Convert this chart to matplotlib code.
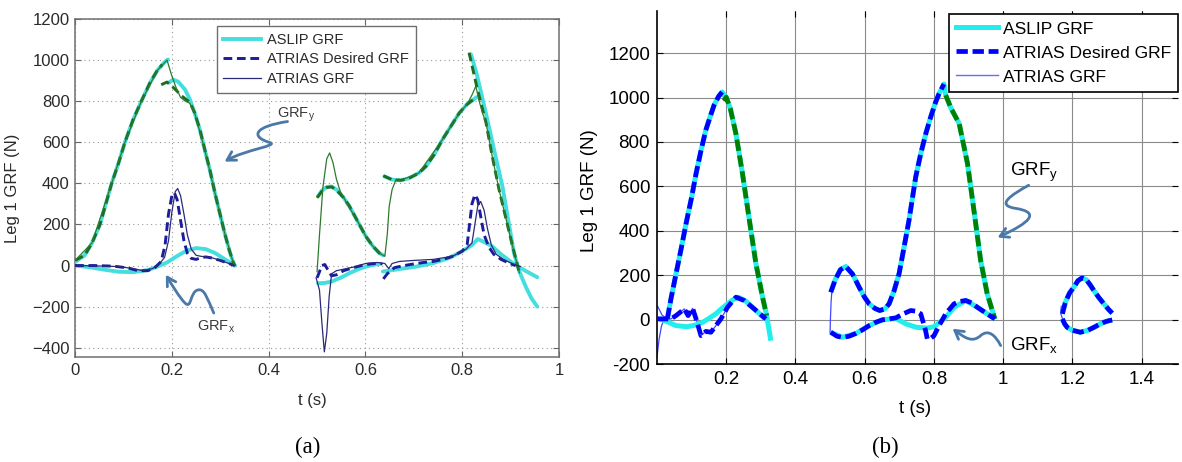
import numpy as np
import matplotlib
matplotlib.use("Agg")
import matplotlib.pyplot as plt
from matplotlib.lines import Line2D
from matplotlib.path import Path
from matplotlib.patches import FancyArrowPatch
from matplotlib.ticker import FuncFormatter

plt.rcParams["font.family"] = ["Liberation Sans", "DejaVu Sans"]
plt.rcParams["mathtext.fontset"] = "custom"
plt.rcParams["mathtext.rm"] = "Liberation Sans"

# ---------------- (a) measured walking, leg 1 ----------------
# stance 1, vertical force
a_slip_y1_t = [0, 0.02, 0.035, 0.0515, 0.0756, 0.09, 0.103, 0.12, 0.137, 0.155, 0.17, 0.185, 0.192]
a_slip_y1_f = [18, 50, 110, 200, 400, 500, 600, 710, 800, 890, 950, 990, 1003]
a_slip_y2_t = [0.194, 0.2025, 0.213, 0.227, 0.237, 0.247, 0.258, 0.268, 0.279, 0.289, 0.299, 0.309, 0.318, 0.326, 0.33]
a_slip_y2_f = [890, 905, 895, 857, 810, 744, 660, 564, 460, 353, 255, 159, 80, 20, 0]
a_des_y1_t = [0, 0.02, 0.035, 0.0515, 0.0756, 0.09, 0.103, 0.12, 0.137, 0.155, 0.17, 0.18]
a_des_y1_f = [25, 50, 110, 200, 400, 500, 600, 710, 800, 890, 950, 978]
a_des_y2_t = [0.178, 0.19, 0.206, 0.22, 0.237, 0.247, 0.258, 0.268, 0.279, 0.289, 0.299, 0.309, 0.318, 0.326, 0.33]
a_des_y2_f = [880, 893, 860, 826, 795, 744, 660, 564, 460, 353, 255, 159, 80, 20, 0]
a_act_y1_t = [0, 0.035, 0.0756, 0.103, 0.137, 0.17, 0.19, 0.199, 0.208, 0.218, 0.228, 0.237, 0.247, 0.268, 0.289, 0.309, 0.326, 0.33]
a_act_y1_f = [25, 110, 400, 600, 800, 950, 1000, 930, 870, 818, 800, 790, 744, 564, 353, 159, 20, 0]
# stance 2, vertical force
a_slip_y3_t = [0.502, 0.51, 0.52, 0.53, 0.54, 0.555, 0.567, 0.585, 0.601, 0.615, 0.629, 0.637]
a_slip_y3_f = [337, 365, 382, 385, 370, 330, 288, 210, 141, 95, 60, 50]
a_slip_y4_t = [0.639, 0.655, 0.673, 0.69, 0.71, 0.725, 0.742, 0.759, 0.777, 0.794, 0.81, 0.83]
a_slip_y4_f = [434, 418, 415, 425, 450, 483, 540, 613, 680, 743, 785, 820]
a_slip_y5_t = [0.818, 0.83, 0.849, 0.866, 0.883, 0.895, 0.907, 0.918, 0.931, 0.943, 0.955]
a_slip_y5_f = [1028, 930, 739, 560, 385, 220, 60, -30, -102, -160, -200]
a_des_y3_t = [0.5, 0.51, 0.52, 0.53, 0.54, 0.555, 0.567, 0.585, 0.601, 0.615, 0.629, 0.637]
a_des_y3_f = [330, 362, 380, 383, 368, 330, 288, 210, 141, 95, 60, 50]
a_des_y4_t = [0.637, 0.655, 0.673, 0.69, 0.71, 0.725, 0.742, 0.759, 0.777, 0.794, 0.81, 0.825]
a_des_y4_f = [437, 418, 415, 425, 450, 483, 540, 613, 680, 743, 785, 812]
a_des_y5_t = [0.814, 0.83, 0.849, 0.862, 0.876, 0.89, 0.904, 0.918]
a_des_y5_f = [1036, 870, 695, 530, 369, 230, 93, -36]
a_act_y2_t = [0.5, 0.505, 0.512, 0.52, 0.526, 0.533, 0.54, 0.548, 0.56, 0.585, 0.601, 0.615, 0.629, 0.64,
              0.645, 0.649, 0.655, 0.663, 0.673, 0.71, 0.759, 0.794, 0.81, 0.82, 0.828, 0.835, 0.842,
              0.849, 0.862, 0.876, 0.89, 0.904, 0.918]
a_act_y2_f = [-30, 150, 380, 520, 548, 500, 420, 360, 310, 210, 141, 95, 60, 45,
              150, 288, 370, 418, 415, 450, 613, 743, 785, 830, 873, 800, 740,
              695, 530, 369, 230, 93, -36]

# stance 1, horizontal force
a_slip_x1_t = [0, 0.03, 0.06, 0.09, 0.12, 0.15, 0.17, 0.19, 0.21, 0.23, 0.25, 0.27, 0.29, 0.31, 0.33]
a_slip_x1_f = [0, -8, -20, -30, -32, -22, -5, 15, 45, 72, 85, 80, 60, 30, 0]
a_des_x1_t = [0, 0.04, 0.08, 0.11, 0.13, 0.15, 0.165, 0.178, 0.186, 0.193, 0.2, 0.205, 0.211, 0.218,
              0.225, 0.232, 0.24, 0.25, 0.26, 0.27, 0.28, 0.3, 0.315, 0.33]
a_des_x1_f = [0, 0, -3, -12, -25, -25, -10, 20, 100, 250, 340, 355, 320, 220,
              120, 60, 35, 30, 38, 42, 38, 25, 12, 0]
a_act_x1_t = [0, 0.05, 0.09, 0.12, 0.14, 0.16, 0.175, 0.185, 0.193, 0.2, 0.207, 0.212, 0.218, 0.225,
              0.232, 0.24, 0.25, 0.26, 0.28, 0.3, 0.33]
a_act_x1_f = [0, -2, -5, -15, -25, -15, 10, 40, 120, 260, 360, 375, 340, 250,
              150, 80, 50, 45, 40, 25, 0]
# stance 2, horizontal force
a_slip_x2_t = [0.502, 0.515, 0.53, 0.55, 0.567, 0.585, 0.601, 0.615, 0.629]
a_slip_x2_f = [-86, -85, -78, -58, -37, -18, -5, 3, 8]
a_slip_x3_t = [0.636, 0.67, 0.705, 0.74, 0.773, 0.8, 0.82, 0.832, 0.845, 0.862, 0.88, 0.904, 0.93, 0.955]
a_slip_x3_f = [-29, -17, -5, 12, 37, 70, 100, 129, 115, 93, 55, 12, -25, -57]
a_des_x2_t = [0.5, 0.505, 0.51, 0.516, 0.522, 0.53, 0.54, 0.555, 0.575, 0.6, 0.62, 0.635]
a_des_x2_f = [-60, -30, 0, 5, -20, -50, -45, -25, -10, 5, 10, 8]
a_des_x3_t = [0.637, 0.645, 0.66, 0.68, 0.7, 0.72, 0.74, 0.76, 0.78, 0.8, 0.81, 0.815, 0.82, 0.826,
              0.832, 0.838, 0.845, 0.855, 0.865, 0.88, 0.9, 0.91]
a_des_x3_f = [-65, -40, -10, 0, 8, 15, 20, 30, 45, 70, 100, 200, 300, 345,
              320, 240, 150, 90, 55, 30, 8, 0]
a_act_x2_t = [0.498, 0.505, 0.51, 0.515, 0.52, 0.525, 0.53, 0.54, 0.56, 0.58, 0.6, 0.625, 0.64, 0.648,
              0.655, 0.67, 0.7, 0.74, 0.78, 0.808, 0.82, 0.826, 0.832, 0.838, 0.845, 0.852, 0.86,
              0.87, 0.885, 0.907, 0.92]
a_act_x2_f = [-60, -120, -280, -420, -330, -150, -40, -25, -15, -5, 10, 15, 10, -15,
              10, 20, 25, 30, 45, 80, 110, 200, 290, 312, 270, 180, 100,
              55, 30, 5, -5]

# ---------------- (b) simulation, leg 1 ----------------
b_rise_y1_t = [0.03, 0.04, 0.055, 0.07, 0.084, 0.1, 0.113, 0.127, 0.141, 0.155, 0.165, 0.178, 0.188]
b_rise_y1_f = [3, 90, 206, 320, 432, 550, 658, 760, 853, 920, 966, 1005, 1025]
b_fall_y1_t = [0.194, 0.2, 0.212, 0.228, 0.247, 0.267, 0.286, 0.305, 0.317]
b_fall_y1_f = [985, 1002, 950, 838, 658, 447, 251, 101, 18]
b_tail_y1_t = [0.317, 0.323, 0.329]
b_tail_y1_f = [18, -40, -95]
b_rise_y2_t = [0.502, 0.515, 0.53, 0.5455, 0.565, 0.584, 0.6, 0.613, 0.63, 0.6436, 0.658, 0.6705, 0.685,
               0.6994, 0.713, 0.728, 0.7475, 0.762, 0.777, 0.791, 0.805, 0.815, 0.829]
b_rise_y2_f = [123, 180, 225, 239, 205, 146, 100, 71, 50, 41, 48, 71, 130,
               207, 320, 447, 643, 748, 840, 914, 980, 1018, 1061]
b_fall_y2_t = [0.834, 0.85, 0.873, 0.897, 0.917, 0.935, 0.954, 0.976]
b_fall_y2_f = [1011, 950, 883, 703, 476, 266, 116, 3]
b_y3_t = [1.171, 1.18, 1.192, 1.204, 1.216, 1.228, 1.24, 1.252, 1.262, 1.276, 1.291, 1.305, 1.315]
b_y3_f = [26, 80, 120, 146, 175, 188, 180, 155, 131, 100, 71, 45, 29]

b_slip_x1_t = [0.006, 0.03, 0.055, 0.087, 0.11, 0.132, 0.15, 0.17, 0.187, 0.204, 0.22, 0.235, 0.255,
               0.276, 0.295, 0.314]
b_slip_x1_f = [5, -10, -27, -32, -25, -12, 5, 26, 50, 71, 90, 101, 85, 56, 28, 0]
b_des_x1_t = [0.0, 0.0067, 0.04, 0.055, 0.079, 0.09, 0.103, 0.1145, 0.127, 0.1414, 0.156, 0.1703, 0.1847,
              0.204, 0.228, 0.252, 0.281, 0.3146]
b_des_x1_f = [5, 3, 3, 18, 48, 18, 51, -4, -72, -53, -57, -27, 3, 56, 101, 86, 48, 3]
b_act_x1_t = [0.0, 0.006, 0.013, 0.02, 0.04, 0.055, 0.079, 0.09, 0.103, 0.1145, 0.127, 0.1414, 0.156,
              0.1703, 0.1847, 0.204, 0.228, 0.252, 0.281, 0.3146]
b_act_x1_f = [-170, -90, -30, 0, 3, 18, 48, 18, 51, -4, -72, -53, -57, -27, 3, 56, 101, 86, 48, 3]
b_act_y1_t = [0.002, 0.015, 0.03]
b_act_y1_f = [60, 20, 3]
b_des_x2_t = [0.502, 0.52, 0.536, 0.555, 0.575, 0.595, 0.613, 0.632, 0.6513, 0.67, 0.69, 0.71, 0.733,
              0.748, 0.762, 0.776, 0.781, 0.79, 0.8, 0.815, 0.834, 0.858, 0.875, 0.892, 0.91, 0.925,
              0.95, 0.976]
b_des_x2_f = [-57, -75, -80, -75, -62, -45, -27, -12, -1, 3, 8, 25, 41,
              38, 26, -50, -88, -85, -73, -27, 26, 71, 82, 86, 75, 56,
              30, 3]
b_slip_x2_t = [0.502, 0.536, 0.575, 0.613, 0.6513, 0.69, 0.72, 0.75, 0.78, 0.8, 0.815, 0.834, 0.858,
               0.892, 0.925, 0.95, 0.976]
b_slip_x2_f = [-57, -80, -62, -27, -1, 5, -20, -35, -38, -32, -15, 10, 55, 86, 56, 30, 3]
b_act_j2_t = [0.5, 0.501, 0.503, 0.505]
b_act_j2_f = [-60, 0, 80, 123]
b_x3_t = [1.171, 1.178, 1.185, 1.2, 1.223, 1.245, 1.262, 1.28, 1.291, 1.305, 1.315]
b_x3_f = [3, -20, -35, -48, -57, -48, -35, -20, -12, -5, -2]
b_act_j3_t = [1.168, 1.166, 1.17, 1.172]
b_act_j3_f = [60, 30, 10, 3]

a_yticks = [-400, -200, 0, 200, 400, 600, 800, 1000, 1200]
a_xticks = [0, 0.2, 0.4, 0.6, 0.8, 1]
b_yticks = [-200, 0, 200, 400, 600, 800, 1000, 1200]
b_xticks = [0.2, 0.4, 0.6, 0.8, 1, 1.2, 1.4]
legend_labels = ["ASLIP GRF", "ATRIAS Desired GRF", "ATRIAS GRF"]

# styles
A_CYAN = dict(color="#45dede", lw=2.8, solid_capstyle="round", zorder=3)
A_NAVY_D = dict(color="#1c1c9c", lw=2.1, ls=(0, (3, 1.6)), zorder=4)
A_NAVY_T = dict(color="#2a2a7a", lw=0.9, zorder=5)
A_GREEN_D = dict(color="#1f6b1f", lw=2.1, ls=(0, (3, 1.6)), zorder=4)
A_GREEN_T = dict(color="#2d7a2d", lw=0.9, zorder=5)
B_CYAN = dict(color="#22eeee", lw=3.6, solid_capstyle="butt", zorder=3)
B_BLUE_D = dict(color="#0000ff", lw=3.4, ls=(0, (2.4, 1.0)), zorder=4)
B_GREEN_D = dict(color="#008000", lw=3.4, ls=(0, (2.4, 1.0)), zorder=4)
B_THIN = dict(color="#4646ff", lw=0.9, zorder=2)
ARROW_C = "#4a78a8"


def fmt_minus(v, pos):
    return ("%g" % v).replace("-", "\u2212")


def squiggle(ax, pts, lw):
    codes = [Path.MOVETO] + [Path.CURVE4] * (len(pts) - 1)
    arr = FancyArrowPatch(path=Path(pts, codes), arrowstyle="->,head_length=6,head_width=3.5",
                          color=ARROW_C, lw=lw, transform=ax.transData, zorder=6)
    ax.add_patch(arr)


fig = plt.figure(figsize=(11.82, 4.62), dpi=100)

# ---------------- panel (a) ----------------
ax = fig.add_axes([0.0635, 0.2273, 0.4095, 0.7316])
ax.plot(a_slip_y1_t, a_slip_y1_f, **A_CYAN)
ax.plot(a_slip_y2_t, a_slip_y2_f, **A_CYAN)
ax.plot(a_slip_y3_t, a_slip_y3_f, **A_CYAN)
ax.plot(a_slip_y4_t, a_slip_y4_f, **A_CYAN)
ax.plot(a_slip_y5_t, a_slip_y5_f, **A_CYAN)
ax.plot(a_slip_x1_t, a_slip_x1_f, **A_CYAN)
ax.plot(a_slip_x2_t, a_slip_x2_f, **A_CYAN)
ax.plot(a_slip_x3_t, a_slip_x3_f, **A_CYAN)
ax.plot(a_des_y1_t, a_des_y1_f, **A_GREEN_D)
ax.plot(a_des_y2_t, a_des_y2_f, **A_GREEN_D)
ax.plot(a_des_y3_t, a_des_y3_f, **A_GREEN_D)
ax.plot(a_des_y4_t, a_des_y4_f, **A_GREEN_D)
ax.plot(a_des_y5_t, a_des_y5_f, **A_GREEN_D)
ax.plot(a_act_y1_t, a_act_y1_f, **A_GREEN_T)
ax.plot(a_act_y2_t, a_act_y2_f, **A_GREEN_T)
ax.plot(a_des_x1_t, a_des_x1_f, **A_NAVY_D)
ax.plot(a_des_x2_t, a_des_x2_f, **A_NAVY_D)
ax.plot(a_des_x3_t, a_des_x3_f, **A_NAVY_D)
ax.plot(a_act_x1_t, a_act_x1_f, **A_NAVY_T)
ax.plot(a_act_x2_t, a_act_x2_f, **A_NAVY_T)

ax.set_xlim(0, 1)
ax.set_ylim(-445, 1200)
ax.set_xticks(a_xticks)
ax.set_yticks(a_yticks)
ax.xaxis.set_major_formatter(FuncFormatter(fmt_minus))
ax.yaxis.set_major_formatter(FuncFormatter(fmt_minus))
ax.grid(True, color="#9a9a9a", lw=0.8, ls=(0, (1, 3)))
ax.tick_params(direction="in", length=4, top=True, right=True, labelsize=12,
               labelcolor="#2a2a2a", color="#666666", pad=4)
for s in ax.spines.values():
    s.set_color("#6f6f6f")
    s.set_linewidth(1.1)
ax.set_ylabel("Leg 1 GRF (N)", fontsize=12, color="#2a2a2a")
ax.yaxis.set_label_coords(-0.113, 0.5)
ax.set_xlabel("t (s)", fontsize=12, color="#2a2a2a")
ax.xaxis.set_label_coords(0.49, -0.107)

a_handles = [Line2D([], [], color=A_CYAN["color"], lw=2.8),
             Line2D([], [], color=A_NAVY_D["color"], lw=2.1, ls=(0, (3, 1.6))),
             Line2D([], [], color=A_NAVY_T["color"], lw=0.9)]
leg = ax.legend(a_handles, legend_labels, loc="upper left", bbox_to_anchor=(0.293, 0.979),
                borderaxespad=0, fontsize=10.5, fancybox=False, framealpha=1,
                handlelength=2.6, handletextpad=0.4, labelspacing=0.4, borderpad=0.45)
leg.get_frame().set_edgecolor("#6f6f6f")
leg.get_frame().set_linewidth(1.0)
for txt in leg.get_texts():
    txt.set_color("#2a2a2a")

ax.text(0.4165, 720, r"GRF$_\mathregular{y}$", fontsize=10.5, color="#3a3a3a", va="baseline", zorder=7)
ax.text(0.2515, -314, r"GRF$_\mathregular{x}$", fontsize=10.5, color="#3a3a3a", va="baseline", zorder=7)
squiggle(ax, [(0.439, 701), (0.371, 677), (0.361, 628), (0.402, 599),
              (0.423, 584), (0.351, 564), (0.309, 506)], 2.0)
squiggle(ax, [(0.2866, -231), (0.274, -167), (0.268, -109), (0.2536, -119),
              (0.237, -128), (0.241, -216), (0.227, -182),
              (0.2165, -158), (0.2, -94), (0.1876, -45)], 2.0)

# ---------------- panel (b) ----------------
bx = fig.add_axes([0.5558, 0.2121, 0.4408, 0.7641])
bx.plot(b_rise_y1_t + b_fall_y1_t[1:] + b_tail_y1_t[1:], b_rise_y1_f + b_fall_y1_f[1:] + b_tail_y1_f[1:], **B_CYAN)
bx.plot(b_rise_y2_t + b_fall_y2_t, b_rise_y2_f + b_fall_y2_f, **B_CYAN)
bx.plot(b_y3_t, b_y3_f, **B_CYAN)
bx.plot(b_slip_x1_t, b_slip_x1_f, **B_CYAN)
bx.plot(b_slip_x2_t, b_slip_x2_f, **B_CYAN)
bx.plot(b_x3_t, b_x3_f, **B_CYAN)
bx.plot(b_act_y1_t + b_rise_y1_t + b_fall_y1_t, b_act_y1_f + b_rise_y1_f + b_fall_y1_f, **B_THIN)
bx.plot(b_act_x1_t, b_act_x1_f, **B_THIN)
bx.plot(b_act_j2_t, b_act_j2_f, **B_THIN)
bx.plot(b_act_j3_t, b_act_j3_f, **B_THIN)
bx.plot(b_rise_y1_t, b_rise_y1_f, **B_BLUE_D)
bx.plot(b_fall_y1_t, b_fall_y1_f, **B_GREEN_D)
bx.plot(b_rise_y2_t, b_rise_y2_f, **B_BLUE_D)
bx.plot(b_fall_y2_t, b_fall_y2_f, **B_GREEN_D)
bx.plot(b_y3_t, b_y3_f, **B_BLUE_D)
bx.plot(b_des_x1_t, b_des_x1_f, **B_BLUE_D)
bx.plot(b_des_x2_t, b_des_x2_f, **B_BLUE_D)
bx.plot(b_x3_t, b_x3_f, **B_BLUE_D)

bx.set_xlim(0, 1.505)
bx.set_ylim(-200, 1390)
bx.set_xticks(b_xticks)
bx.set_yticks(b_yticks)
bx.xaxis.set_major_formatter(FuncFormatter(lambda v, p: "%g" % v))
bx.yaxis.set_major_formatter(FuncFormatter(lambda v, p: "%g" % v))
bx.grid(True, color="#8a8a8a", lw=0.8, ls="-")
bx.tick_params(direction="in", length=4, top=True, right=True, labelsize=13.5,
               labelcolor="black", color="black", pad=5)
bx.spines["top"].set_visible(False)
bx.spines["right"].set_visible(False)
for s in ("left", "bottom"):
    bx.spines[s].set_linewidth(1.2)
bx.set_ylabel("Leg 1 GRF (N)", fontsize=13.5)
bx.yaxis.set_label_coords(-0.113, 0.49)
bx.set_xlabel("t (s)", fontsize=13.5)
bx.xaxis.set_label_coords(0.495, -0.102)

b_handles = [Line2D([], [], color=B_CYAN["color"], lw=3.6),
             Line2D([], [], color=B_BLUE_D["color"], lw=3.4, ls=(0, (2.4, 1.0))),
             Line2D([], [], color="#6a6aff", lw=1.0)]
leg_b = bx.legend(b_handles, legend_labels, loc="upper left", bbox_to_anchor=(0.5605, 0.9915),
                  borderaxespad=0, fontsize=12.6, fancybox=False, framealpha=1,
                  handlelength=2.4, handletextpad=0.25, labelspacing=0.5, borderpad=0.42)
leg_b.get_frame().set_edgecolor("black")
leg_b.get_frame().set_linewidth(1.2)

bx.text(1.0197, 650, r"GRF$_\mathregular{y}$", fontsize=13.5, va="baseline", zorder=7)
bx.text(1.0197, -140, r"GRF$_\mathregular{x}$", fontsize=13.5, va="baseline", zorder=7)
squiggle(bx, [(1.0736, 605), (1.0216, 560), (0.978, 515), (1.036, 501),
              (1.108, 483), (1.079, 438), (0.984, 370)], 2.0)
squiggle(bx, [(0.9928, -117), (0.978, -72), (0.958, -41), (0.935, -72),
              (0.912, -104), (0.892, -86), (0.854, -41)], 2.0)

fig.text(308 / 1182, 1 - 447 / 462, "(a)", family="Liberation Serif", fontsize=16.5, ha="center", va="center")
fig.text(885 / 1182, 1 - 447 / 462, "(b)", family="Liberation Serif", fontsize=16.5, ha="center", va="center")

fig.savefig("out.png", dpi=100)
